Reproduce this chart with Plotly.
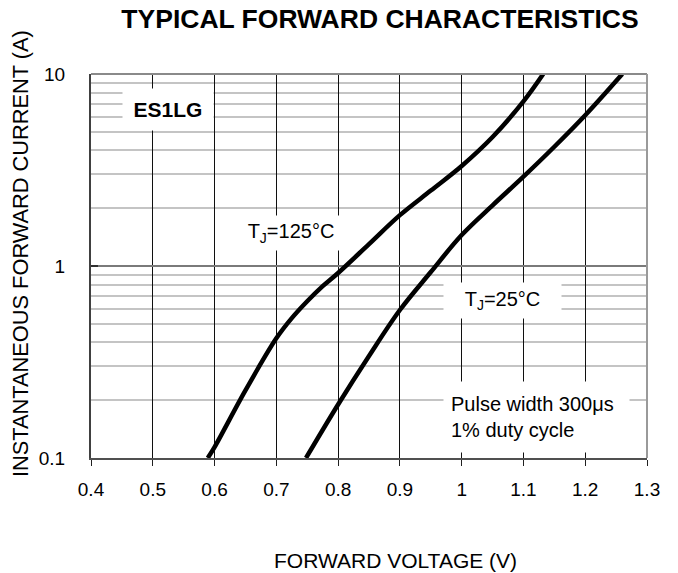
import numpy as np
import plotly.graph_objects as go

# ---- data ----
v_125 = [0.589, 0.600, 0.650, 0.700, 0.725, 0.750, 0.775, 0.800, 0.850, 0.900, 0.950, 1.000, 1.050, 1.100, 1.132]
i_125 = [0.100, 0.114, 0.225, 0.420, 0.535, 0.655, 0.785, 0.920, 1.300, 1.840, 2.470, 3.320, 4.700, 7.200, 10.00]

v_25 = [0.748, 0.800, 0.850, 0.900, 0.950, 1.000, 1.050, 1.100, 1.150, 1.200, 1.260]
i_25 = [0.100, 0.190, 0.340, 0.590, 0.930, 1.450, 2.070, 2.920, 4.180, 6.100, 10.00]

x_ticks = [0.4, 0.5, 0.6, 0.7, 0.8, 0.9, 1.0, 1.1, 1.2, 1.3]
x_ticktext = ["0.4", "0.5", "0.6", "0.7", "0.8", "0.9", "1", "1.1", "1.2", "1.3"]
y_ticks = [0.1, 1, 10]
y_ticktext = ["0.1", "1", "10"]
y_minor = [0.2, 0.3, 0.4, 0.5, 0.6, 0.7, 0.8, 0.9, 2, 3, 4, 5, 6, 7, 8, 9]

FONT = "Liberation Sans, Arial, sans-serif"
OFF = 8  # page body margin

fig = go.Figure()
for v, i in [(v_125, i_125), (v_25, i_25)]:
    fig.add_trace(go.Scatter(x=v, y=i, mode="lines",
                             line=dict(color="black", width=4.5, shape="spline", smoothing=1.0),
                             hoverinfo="skip", showlegend=False))

L, T = 91 - OFF, 74 - OFF
PW, PH = 556, 384
fig.update_layout(
    width=678, height=573, autosize=False,
    margin=dict(l=L, r=678 - L - PW, t=T, b=573 - T - PH),
    paper_bgcolor="white", plot_bgcolor="white",
    font=dict(family=FONT, color="black", size=19),
    showlegend=False,
    title=dict(text="<b>TYPICAL FORWARD CHARACTERISTICS</b>",
               font=dict(family=FONT, size=26.5, color="black"),
               xref="paper", x=(380 - 91) / PW, xanchor="center",
               yref="container", y=1 - (19 - OFF) / 573, yanchor="middle"),
)

fig.update_xaxes(
    range=[0.4, 1.3], tickvals=x_ticks, ticktext=x_ticktext,
    showgrid=True, gridcolor="#101010", gridwidth=1,
    showline=True, linecolor="#505050", linewidth=2,
    ticks="outside", ticklen=6, tickcolor="#202020", tickwidth=1,
    ticklabelstandoff=7, zeroline=False,
    tickfont=dict(size=19, family=FONT, color="black"),
)
fig.update_yaxes(
    type="log", range=[-1, 1], tickvals=y_ticks, ticktext=y_ticktext,
    showgrid=True, gridcolor="#7a7a7a", gridwidth=2,
    minor=dict(tickvals=y_minor, showgrid=True, gridcolor="#c4c4c4", gridwidth=2, ticks=""),
    showline=True, linecolor="#404040", linewidth=2,
    ticks="inside", ticklen=7, tickcolor="#303030", tickwidth=2,
    ticklabelstandoff=20, zeroline=False,
    tickfont=dict(size=19, family=FONT, color="black"),
)

# top and right frame
fig.add_shape(type="line", xref="paper", yref="paper", x0=0, x1=1, y0=1, y1=1,
              line=dict(color="#8a8a8a", width=2))
fig.add_shape(type="line", xref="paper", yref="paper", x0=1, x1=1, y0=0, y1=1,
              line=dict(color="#9a9a9a", width=2))

def box(text, x, y, w, h, size=20, bold=False, align="center", pad=0):
    fig.add_annotation(text=f"<b>{text}</b>" if bold else text, x=x, y=y, xref="x", yref="y",
                       showarrow=False, bgcolor="white", width=w, height=h, borderpad=pad,
                       align=align, font=dict(family=FONT, size=size, color="black"),
                       xanchor="center", yanchor="middle")

box("ES1LG", 0.5248, 0.815, 90, 41, size=21, bold=True)
box("T<sub>J</sub>=125°C", 0.724, 0.172, 102, 34, size=20)
box("T<sub>J</sub>=25°C", 1.0653, -0.1797, 117, 35, size=20)
box("Pulse width 300μs<br>1% duty cycle", 1.1204, -0.786, 171, 56, size=20, align="left", pad=7)

# axis titles
fig.add_annotation(text="INSTANTANEOUS FORWARD CURRENT (A)", textangle=-90,
                   xref="paper", yref="paper", x=(20 - 91) / PW, y=(458 - 254) / PH,
                   xanchor="center", yanchor="middle", showarrow=False,
                   font=dict(family=FONT, size=21.8, color="black"))
fig.add_annotation(text="FORWARD VOLTAGE (V)",
                   xref="paper", yref="paper", x=(395 - 91) / PW, y=(458 - 560) / PH,
                   xanchor="center", yanchor="middle", showarrow=False,
                   font=dict(family=FONT, size=21, color="black"))
# clipped character at bottom-left edge
fig.add_annotation(text="0", xref="paper", yref="paper", x=(7 - 91) / PW, y=(458 - 497) / PH,
                   xanchor="right", yanchor="middle", showarrow=False,
                   font=dict(family=FONT, size=19, color="black"))

fig.write_html("out.html")
